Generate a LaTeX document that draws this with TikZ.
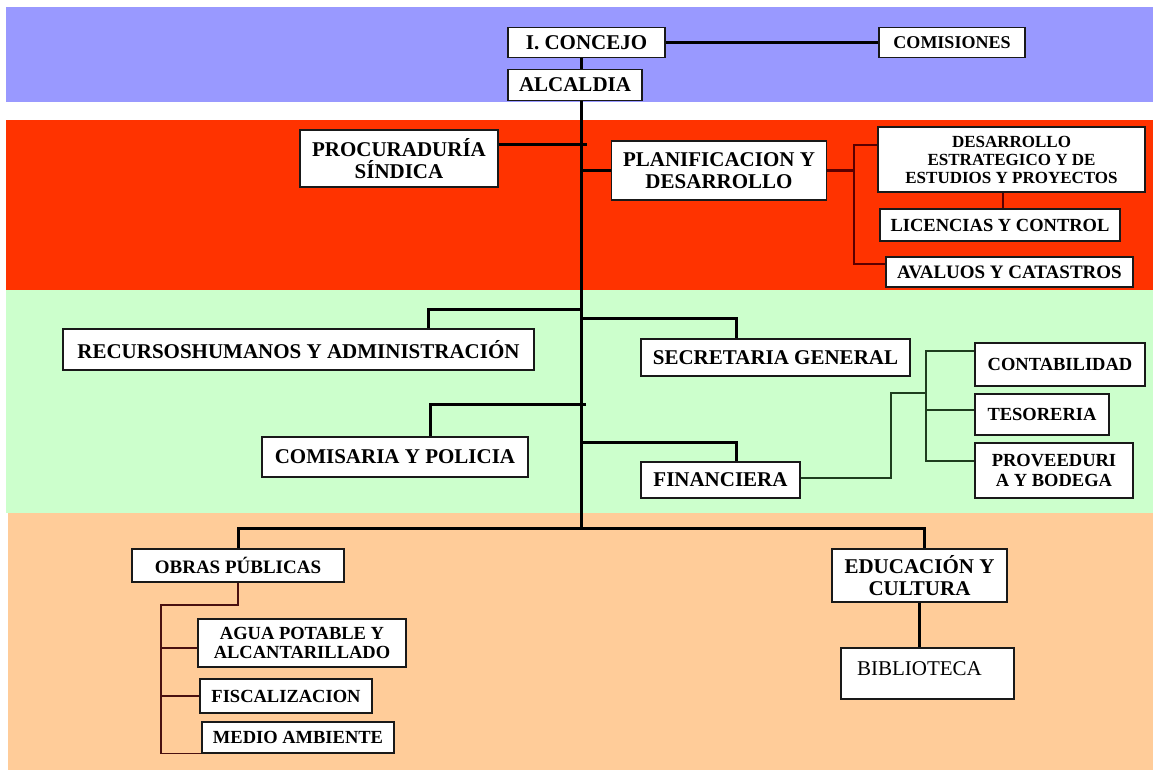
\documentclass[tikz,border=0pt]{standalone}
\usepackage{fontspec}
\setmainfont{Liberation Serif}
\usetikzlibrary{calc}
\definecolor{bandBlue}{HTML}{9999FF}
\definecolor{bandRed}{HTML}{FF3300}
\definecolor{bandGreen}{HTML}{CCFFCC}
\definecolor{bandPeach}{HTML}{FFCC99}
\definecolor{lineRed}{HTML}{5A0000}
\definecolor{lineGreen}{HTML}{1E3D1E}
\definecolor{lineBrown}{HTML}{4A1010}
\begin{document}
\begin{tikzpicture}[
    x=1pt, y=-1pt,
    unit/.style={draw=black!90, line width=1.4pt, fill=white, inner sep=0pt,
                 align=center, font=\bfseries\fontsize{21}{22}\selectfont},
    unitS/.style={unit, font=\bfseries\fontsize{18.5}{19.5}\selectfont},
    unitXS/.style={unit, font=\bfseries\fontsize{17}{18}\selectfont},
    trunk/.style={line width=3pt, black},
    subR/.style={line width=1.5pt, lineRed},
    subG/.style={line width=1.4pt, lineGreen},
    subB/.style={line width=1.4pt, lineBrown},
]
\useasboundingbox (0,0) rectangle (1153,770);
\def\xt{581}    % x of the main trunk
\def\xr{1153}   % right end of the bands

% --- background bands ---
\fill[bandBlue]  (6,7)   rectangle (\xr,102);
\fill[bandRed]   (6,120) rectangle (\xr,290);
\fill[bandGreen] (6,290) rectangle (\xr,513);
\fill[bandPeach] (8,513) rectangle (\xr,770);

% --- top level ---
\node[unit, minimum width=157, minimum height=30] (concejo) at (586.5,42.5) {I. CONCEJO};
\node[unit, font=\bfseries\fontsize{18}{18}\selectfont,
      minimum width=146, minimum height=30] (comisiones) at (952,42.5) {COMISIONES};
\node[unit, minimum width=134, minimum height=31] (alcaldia) at (575,85) {ALCALDIA};

% --- red band ---
\node[unit, minimum width=198, minimum height=57] (procuraduria) at (399,158.5)
      {PROCURADURÍA\\SÍNDICA};
\node[unit, minimum width=215, minimum height=59] (planif) at (719,170.5)
      {PLANIFICACION Y\\DESARROLLO};
\node[unitXS, minimum width=267, minimum height=65] (desarrollo) at (1011.5,159.5)
      {DESARROLLO\\ESTRATEGICO Y DE\\ESTUDIOS Y PROYECTOS};
\node[unitS, minimum width=240, minimum height=32] (licencias) at (1000,225)
      {LICENCIAS Y CONTROL};
\node[unitS, font=\bfseries\fontsize{19}{19}\selectfont,
      minimum width=247, minimum height=30] (avaluos) at (1009.5,272)
      {AVALUOS Y CATASTROS};

% --- green band ---
\node[unit, minimum width=471, minimum height=41] (rrhh) at (298.5,349.5)
      {RECURSOSHUMANOS Y ADMINISTRACIÓN};
\node[unit, minimum width=269, minimum height=37] (secretaria) at (775.5,357.5)
      {SECRETARIA GENERAL};
\node[unit, minimum width=266, minimum height=40] (comisaria) at (395,457)
      {COMISARIA Y POLICIA};
\node[unit, minimum width=159, minimum height=36] (financiera) at (720.5,480)
      {FINANCIERA};
\node[unitS, minimum width=170, minimum height=43] (contabilidad) at (1060,364.5)
      {CONTABILIDAD};
\node[unitS, minimum width=134, minimum height=41] (tesoreria) at (1042,414.5)
      {TESORERIA};
\node[unitS, minimum width=158, minimum height=55] (proveeduria) at (1054,470.5)
      {PROVEEDURI\\A Y BODEGA};

% --- peach band ---
\node[unitS, font=\bfseries\fontsize{19}{19}\selectfont,
      minimum width=212, minimum height=33] (obras) at (238,565.5) {OBRAS PÚBLICAS};
\node[unit, minimum width=175, minimum height=53] (educacion) at (919.5,575.5)
      {EDUCACIÓN Y\\CULTURA};
\node[unit, font=\fontsize{21}{21}\selectfont, align=left, inner xsep=16pt,
      text width=141pt, text height=27pt, text depth=24pt] (biblioteca) at (927.5,673.5)
      {BIBLIOTECA};
\node[unitS, minimum width=208, minimum height=48] (agua) at (302,643)
      {AGUA POTABLE Y\\ALCANTARILLADO};
\node[unitS, minimum width=172, minimum height=34] (fiscalizacion) at (286,696)
      {FISCALIZACION};
\node[unitS, minimum width=192, minimum height=31] (medio) at (298,737.5)
      {MEDIO AMBIENTE};

% --- junction points ---
\coordinate (tk) at (\xt,0);
\coordinate (tb) at (\xt,528);
\coordinate (jp) at (587,145);
\coordinate (jr) at (428,309);
\coordinate (js) at (736,318);
\coordinate (jc) at (430,404);
\coordinate (jc2) at (586,404);
\coordinate (jf) at (736,442);
\coordinate (jo) at (238,528);
\coordinate (je) at (924,528);
\coordinate (jb) at (919,0);
\coordinate (pb) at (854,0);
\coordinate (dl) at (1003,0);
\coordinate (fa) at (891,393);
\coordinate (fb) at (926,0);
\coordinate (oa) at (238,605);
\coordinate (ob) at (161,0);

% main trunk and first level
\draw[trunk] (concejo.east) -- (comisiones.west);
\draw[trunk] (concejo.south -| tk) -- (alcaldia.north -| tk);
\draw[trunk] (alcaldia.south -| tk) -- (tb);
\draw[trunk] (procuraduria.east |- jp) -- (jp);
\draw[trunk] (tk |- planif.west) -- (planif.west);
\draw[trunk] (tk |- jr) -- (jr) -- (jr |- rrhh.north);
\draw[trunk] (tk |- js) -- (js) -- (js |- secretaria.north);
\draw[trunk] (jc2) -- (jc) -- (jc |- comisaria.north);
\draw[trunk] (tk |- jf) -- (jf) -- (jf |- financiera.north);
\draw[trunk] (jo |- obras.north) -- (jo) -- (je) -- (je |- educacion.north);
\draw[trunk] (educacion.south -| jb) -- (biblioteca.north -| jb);

% planificacion branches
\draw[subR, line width=2.2pt] (planif.east) -- (planif.east -| pb);
\draw[subR] (desarrollo.west |- 0,145) -- (pb |- 0,145) -- (pb |- 0,264) -- (avaluos.west |- 0,264);
\draw[subR, line width=2.4pt] (desarrollo.south -| dl) -- (licencias.north -| dl);

% financiera branches
\draw[subG] (financiera.east |- 0,478) -| (fa) -- (fa -| fb);
\draw[subG] (contabilidad.west |- 0,351) -- (fb |- 0,351) -- (fb |- 0,461) -- (proveeduria.west |- 0,461);
\draw[subG] (fb |- 0,410) -- (tesoreria.west |- 0,410);

% obras branches
\draw[subB] (obras.south -| oa) -- (oa) -- (oa -| ob) -- (ob |- medio.south) -- (medio.south west);
\draw[subB] (ob |- 0,648) -- (agua.west |- 0,648);
\draw[subB] (ob |- fiscalizacion.west) -- (fiscalizacion.west);
\end{tikzpicture}
\end{document}
